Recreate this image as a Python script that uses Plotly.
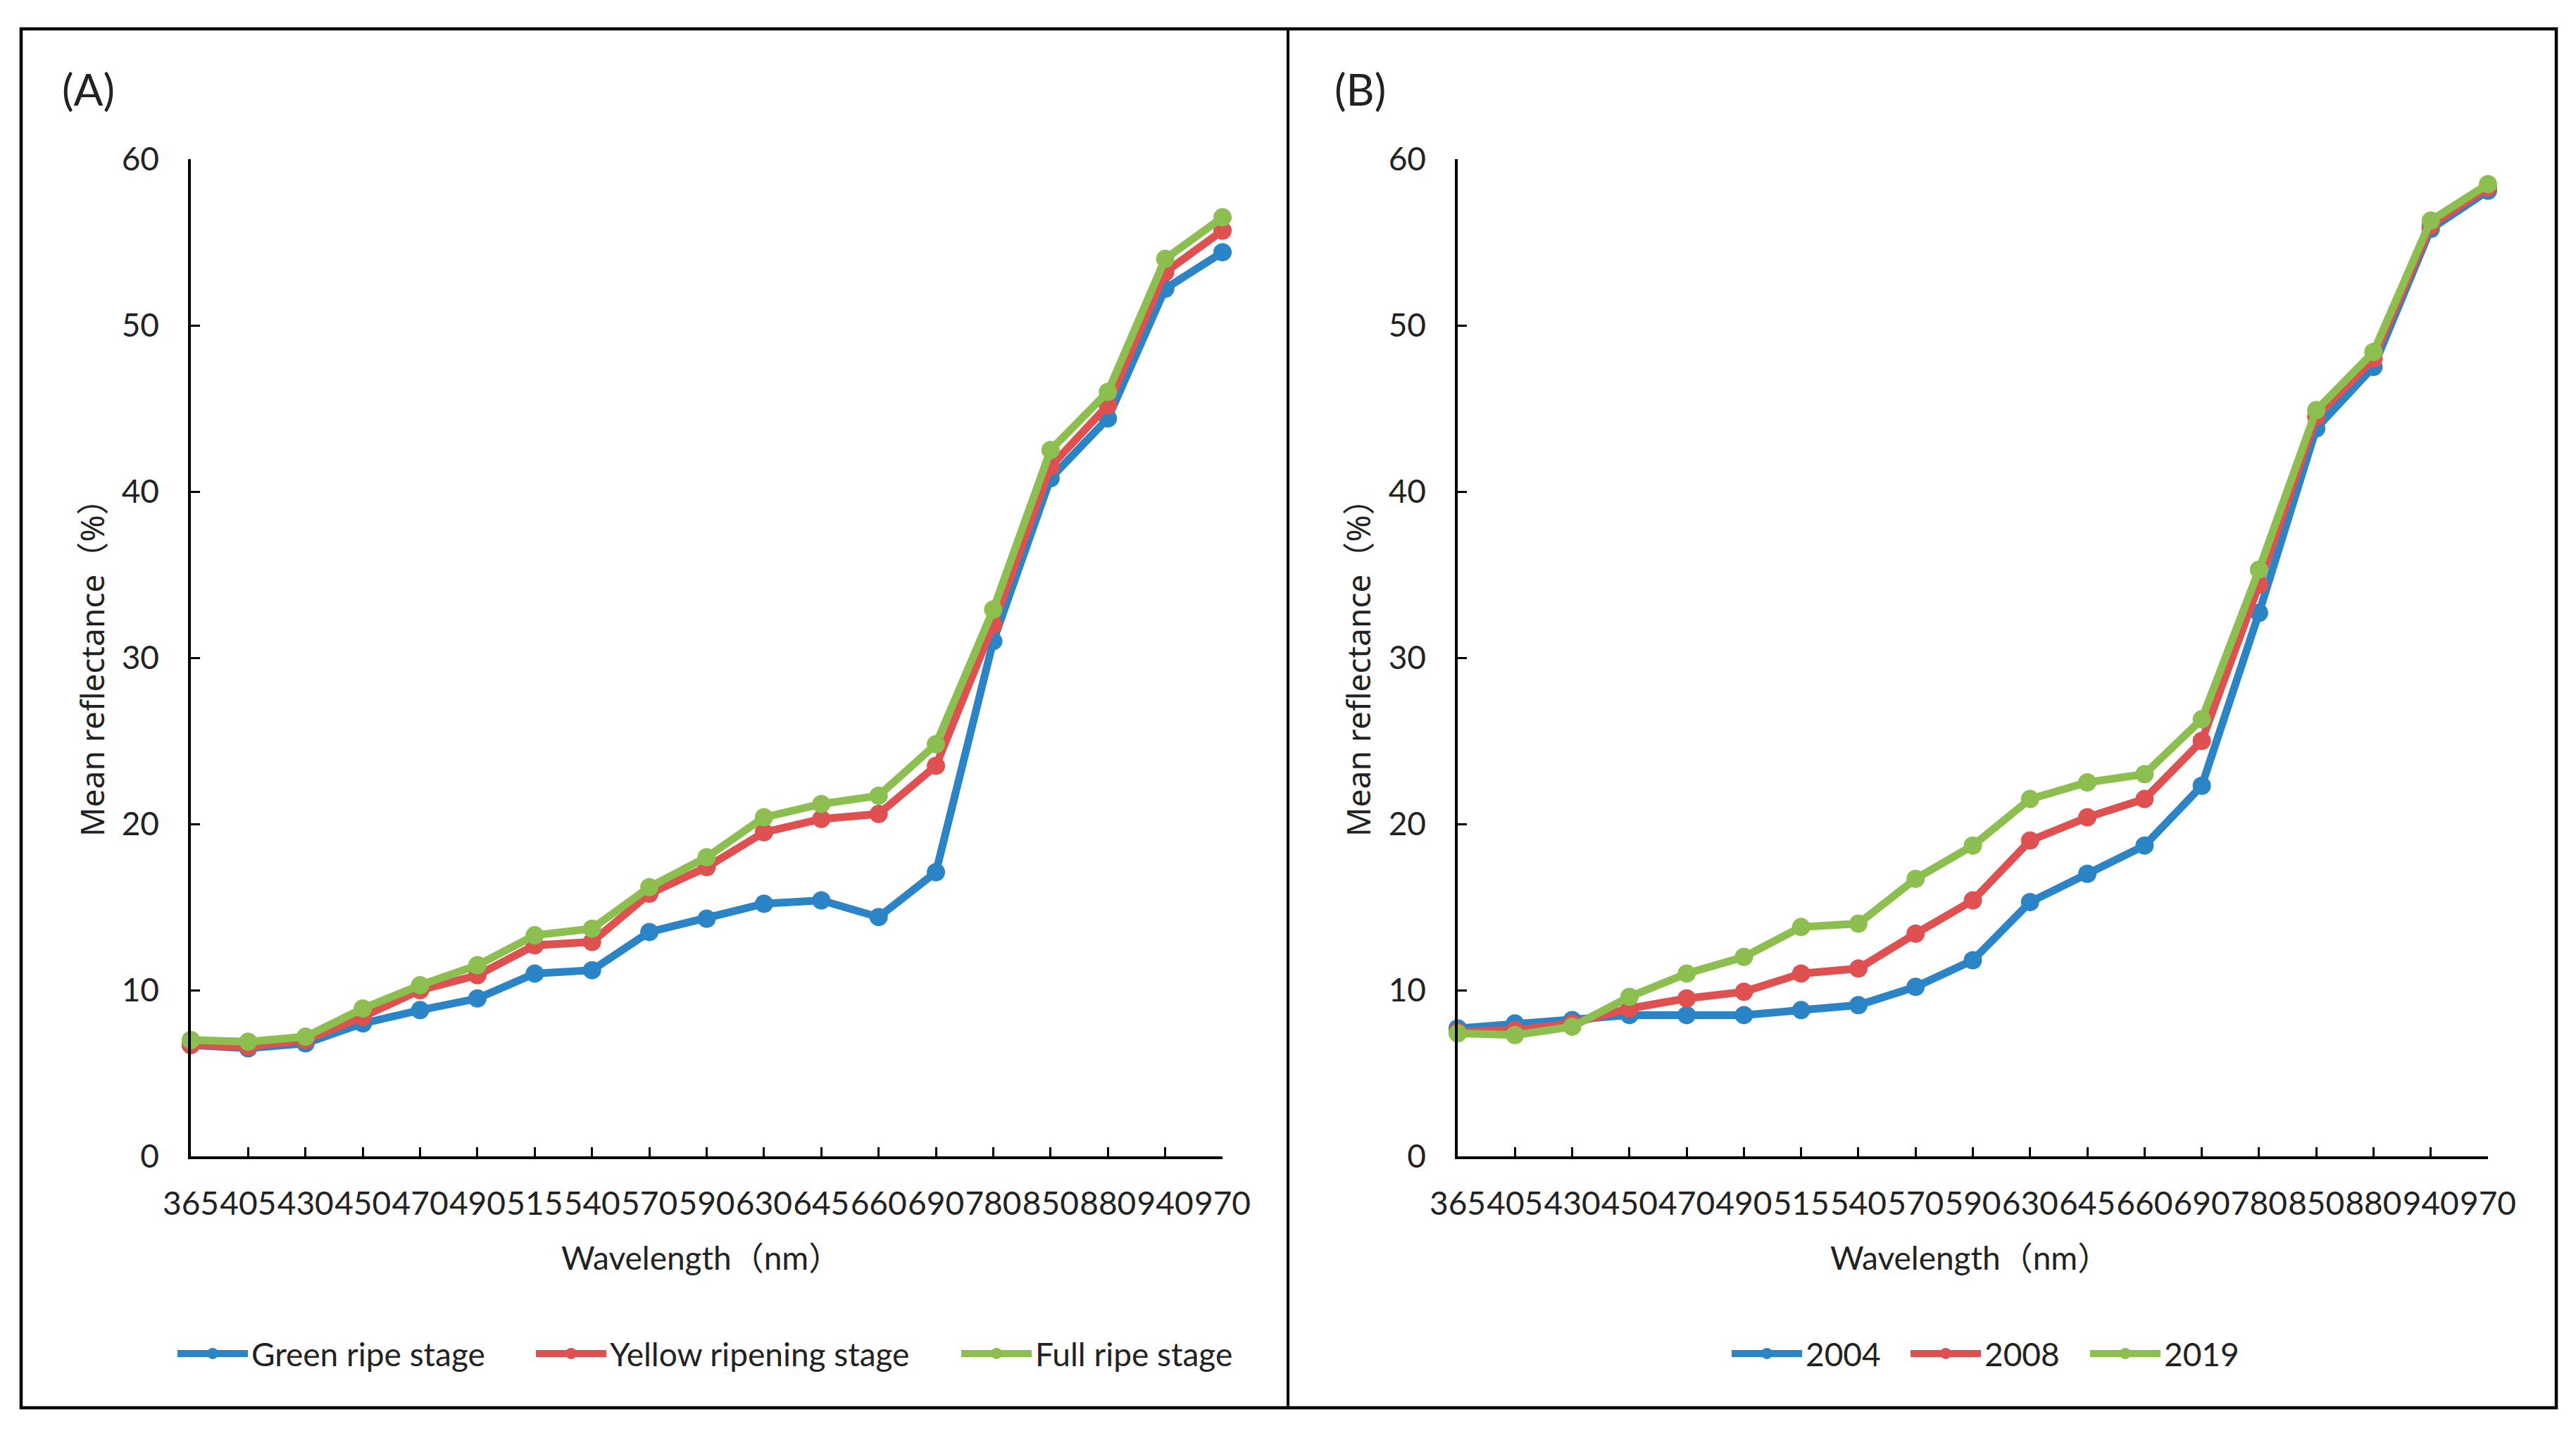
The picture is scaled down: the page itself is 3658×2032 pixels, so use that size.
import plotly.graph_objects as go

wavelengths = ["365", "405", "430", "450", "470", "490", "515", "540", "570", "590",
               "630", "645", "660", "690", "780", "850", "880", "940", "970"]

# Panel A: ripening stages
green_ripe = [6.7, 6.5, 6.8, 8.0, 8.8, 9.5, 11.0, 11.2, 13.5, 14.3,
              15.2, 15.4, 14.4, 17.1, 31.0, 40.8, 44.4, 52.2, 54.4]
yellow_ripening = [6.7, 6.6, 7.0, 8.4, 10.0, 10.9, 12.7, 12.9, 15.8, 17.4,
                   19.5, 20.3, 20.6, 23.5, 32.0, 41.5, 45.2, 53.2, 55.7]
full_ripe = [7.0, 6.9, 7.2, 8.9, 10.3, 11.5, 13.3, 13.7, 16.2, 18.0,
             20.4, 21.2, 21.7, 24.8, 32.9, 42.5, 46.0, 54.0, 56.5]

# Panel B: years
y2004 = [7.7, 8.0, 8.2, 8.5, 8.5, 8.5, 8.8, 9.1, 10.2, 11.8,
         15.3, 17.0, 18.7, 22.3, 32.7, 43.8, 47.5, 55.8, 58.1]
y2008 = [7.5, 7.6, 8.0, 8.9, 9.5, 9.9, 11.0, 11.3, 13.4, 15.4,
         19.0, 20.4, 21.5, 25.0, 34.4, 44.5, 48.0, 56.0, 58.3]
y2019 = [7.4, 7.3, 7.8, 9.6, 11.0, 12.0, 13.8, 14.0, 16.7, 18.7,
         21.5, 22.5, 23.0, 26.3, 35.3, 44.9, 48.4, 56.3, 58.5]

names_a = ["Green ripe stage", "Yellow ripening stage", "Full ripe stage"]
names_b = ["2004", "2008", "2019"]
colors = ["#2a84c6", "#df5151", "#8cbf4f"]

W, H = 3658, 2032
BODY = 8  # default page margin of the html body
FONT = "Lato, Noto Sans CJK SC, sans-serif"

def px(x):
    return (x - BODY) / W

def py(y):
    return 1 - (y - BODY) / H

# legend symbol starts (screen px) for each entry
legend_x_a = [252, 761, 1365]
legend_x_b = [2459, 2713, 2968]

fig = go.Figure()

lg = 1
for vals, name, col in zip([green_ripe, yellow_ripening, full_ripe], names_a, colors):
    fig.add_trace(go.Scatter(x=wavelengths, y=vals, name=name, mode="lines+markers",
                             line=dict(color=col, width=11), marker=dict(color=col, size=26),
                             cliponaxis=False, xaxis="x", yaxis="y",
                             legend="legend" if lg == 1 else f"legend{lg}"))
    lg += 1

for vals, name, col in zip([y2004, y2008, y2019], names_b, colors):
    fig.add_trace(go.Scatter(x=wavelengths, y=vals, name=name, mode="lines+markers",
                             line=dict(color=col, width=11), marker=dict(color=col, size=26),
                             cliponaxis=False, xaxis="x2", yaxis="y2", legend=f"legend{lg}"))
    lg += 1

xaxis_common = dict(type="category", range=[0, len(wavelengths) - 1], showline=True,
                    linecolor="black", linewidth=4, ticks="inside", ticklen=13, tickwidth=3,
                    tickcolor="black", showgrid=False, zeroline=False, tickangle=0,
                    automargin=False,
                    tickfont=dict(family=FONT, size=46, color="#222222"),
                    ticklabelstandoff=24, fixedrange=True)
yaxis_common = dict(range=[0, 60], dtick=10, showline=True, linecolor="black", linewidth=3.5,
                    ticks="inside", ticklen=13, tickwidth=3, tickcolor="black",
                    showgrid=False, zeroline=False, automargin=False,
                    tickfont=dict(family=FONT, size=46, color="#222222"),
                    ticklabelstandoff=32, fixedrange=True)

y_dom = [py(1642), py(226)]
legends = {}
for i, xpos in enumerate(legend_x_a + legend_x_b):
    key = "legend" if i == 0 else f"legend{i + 1}"
    legends[key] = dict(orientation="h", x=px(xpos - 5), xanchor="left", y=py(1922), yanchor="middle",
                        itemwidth=100, font=dict(family=FONT, size=46, color="#222222"),
                        bgcolor="rgba(0,0,0,0)")

fig.update_layout(
    width=W, height=H,
    margin=dict(l=0, r=0, t=0, b=0, autoexpand=False),
    paper_bgcolor="white", plot_bgcolor="white",
    xaxis=dict(domain=[px(271), px(1736)], anchor="y", **xaxis_common),
    yaxis=dict(domain=y_dom, anchor="x", **yaxis_common),
    xaxis2=dict(domain=[px(2070), px(3533)], anchor="y2", **xaxis_common),
    yaxis2=dict(domain=y_dom, anchor="x2", **yaxis_common),
    showlegend=True,
    **legends,
)

# frame and divider
fig.add_shape(type="rect", xref="paper", yref="paper", x0=px(30), x1=px(3630), y0=py(1999), y1=py(41),
              line=dict(color="black", width=4.5), fillcolor="rgba(0,0,0,0)", layer="above")
fig.add_shape(type="line", xref="paper", yref="paper", x0=px(1829), x1=px(1829), y0=py(1999), y1=py(41),
              line=dict(color="black", width=4))

ann = [
    dict(text="(A)", x=px(86), y=py(126), xanchor="left", yanchor="middle", size=62, family=FONT, angle=0),
    dict(text="(B)", x=px(1893), y=py(126), xanchor="left", yanchor="middle", size=62, family=FONT, angle=0),
    dict(text="Wavelength（nm）", x=px(995), y=py(1785), xanchor="center", yanchor="middle", size=46, family=FONT, angle=0),
    dict(text="Wavelength（nm）", x=px(2797), y=py(1785), xanchor="center", yanchor="middle", size=46, family=FONT, angle=0),
    dict(text="Mean reflectance（%）", x=px(130), y=py(937), xanchor="center", yanchor="middle", size=46,
         family="Noto Sans, Noto Sans CJK SC, sans-serif", angle=-90),
    dict(text="Mean reflectance（%）", x=px(1928), y=py(937), xanchor="center", yanchor="middle", size=46,
         family="Noto Sans, Noto Sans CJK SC, sans-serif", angle=-90),
]
for a in ann:
    fig.add_annotation(text=a["text"], x=a["x"], y=a["y"], xref="paper", yref="paper",
                       xanchor=a["xanchor"], yanchor=a["yanchor"], showarrow=False,
                       textangle=a["angle"], font=dict(family=a["family"], size=a["size"], color="#222222"))

fig.write_html("out.html")
